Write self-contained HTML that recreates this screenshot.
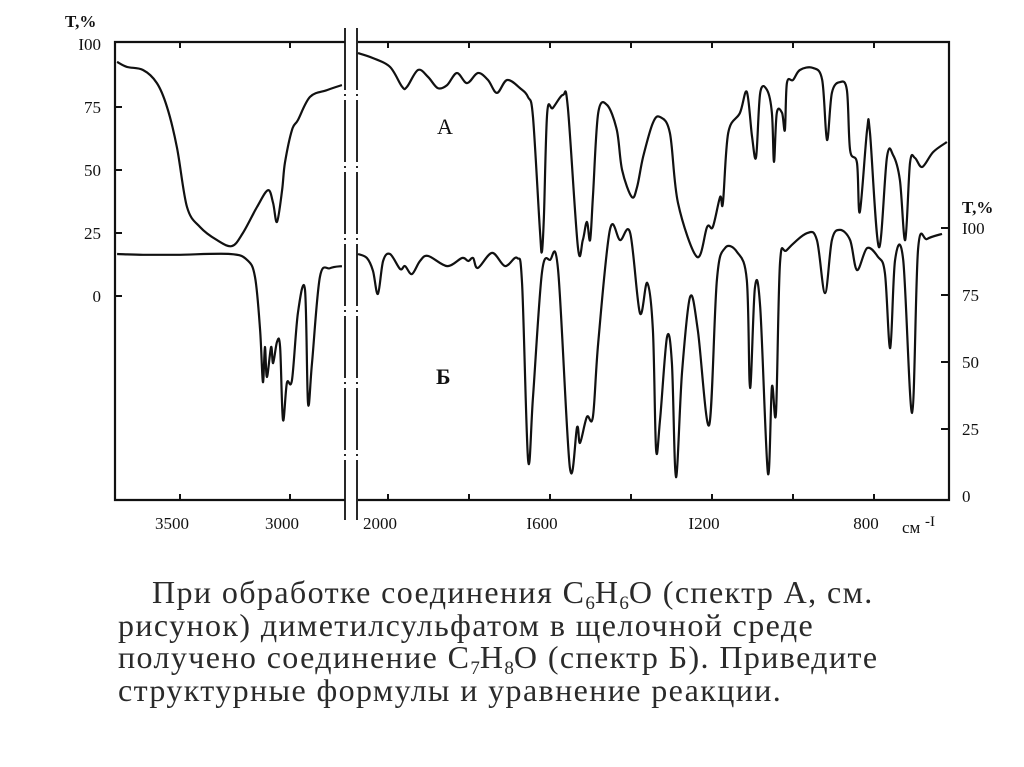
<!DOCTYPE html>
<html><head><meta charset="utf-8"><style>
body{margin:0;background:#fff;width:1024px;height:767px;overflow:hidden;font-family:"Liberation Serif",serif}
svg text{font-family:"Liberation Serif",serif;fill:#111}
#caption{position:absolute;left:118px;top:576px;width:900px;font-size:32px;letter-spacing:1.4px;line-height:32.5px;color:#2a2a2a;font-family:"Liberation Serif","Noto Serif CJK SC",serif;white-space:nowrap}
sub{font-size:19px;vertical-align:-6px;line-height:0;letter-spacing:0}
</style></head><body>
<svg id="chart" width="1024" height="570" style="position:absolute;left:0;top:0"></svg>
<div id="caption"><span style="padding-left:34px"></span>При обработке соединения С<sub>6</sub>Н<sub>6</sub>О (спектр А, см.<br>рисунок) диметилсульфатом в щелочной среде<br>получено соединение С<sub>7</sub>Н<sub>8</sub>О (спектр Б). Приведите<br>структурные формулы и уравнение реакции.</div>
<script>
// Spectrum A (left axis) - wavenumber / transmittance
const aLeftW=[3786,3741,3668,3605,3559,3514,3468,3409,3332,3264,3214,3150,3100,3077,3059,3036,3023,2991,2964,2909,2832,2764];
const aLeftT=[92.9,90.9,89.7,84.5,75,59,35.3,27.4,22.2,19.8,25,35.3,42,36.9,29.4,42,52.8,65.9,69.8,79,81.7,83.7];
const aRightW=[2074,2037,1995,1965,1953,1926,1901,1877,1854,1830,1805,1778,1753,1731,1706,1674,1654,1642,1625,1620,1615,1607,1593,1568,1556,1531,1519,1509,1501,1494,1481,1459,1435,1422,1398,1385,1370,1346,1328,1304,1284,1237,1212,1198,1180,1173,1160,1131,1114,1101,1091,1081,1064,1052,1047,1040,1027,1020,1015,1000,983,951,928,916,904,884,867,859,842,835,817,810,788,768,753,736,723,711,699,681,654,620];
const aRightT=[96.4,94.4,90.9,83,83,89.7,86.9,82.5,83.7,88.5,84.5,88.5,85.7,80.6,85.7,82.5,78.9,71,26.2,17.5,31.3,72.6,74.6,79.8,75,19.4,22.2,29.4,22.2,39.3,72.6,75.8,65.9,50,39.3,43.3,55.2,68.7,71,64.7,36.9,15.5,27.4,27.4,39.3,36.9,64.7,72.6,81,63.1,55.2,80.6,81.7,72.6,53.2,72.6,72.6,65.9,84.5,85.7,89.7,90.5,85.7,61.9,80.6,84.9,81.7,57.9,52.8,33.3,65.9,64.7,19.4,55.2,56,46,22.2,52.8,54.8,51.2,57.1,61.1];
// Spectrum B (right axis)
const bLeftW=[3786,3668,3514,3273,3195,3159,3136,3123,3114,3105,3086,3077,3059,3045,3032,3014,2991,2964,2932,2918,2900,2864,2818,2764];
const bLeftT=[90.3,90,90,90.3,88.1,81.7,61.9,42.5,55.6,44.4,55.6,49.6,57.5,55.6,28.4,42.2,43.3,68.3,76.9,34.7,49.6,81.7,85,85.8];
const bRightW=[2074,2052,2037,2025,2012,1995,1970,1958,1941,1921,1901,1854,1817,1802,1790,1778,1743,1711,1681,1669,1654,1642,1620,1600,1580,1551,1533,1526,1509,1494,1481,1452,1427,1402,1378,1360,1346,1338,1328,1311,1299,1289,1274,1254,1235,1207,1188,1168,1138,1114,1106,1094,1081,1062,1052,1042,1032,1015,965,941,921,904,884,859,842,817,790,773,760,748,728,706,691,669,632];
const bRightT=[90.3,88.8,84,75.4,87.7,90.3,84.7,85.8,82.8,87.7,89.6,85.8,88.8,87.7,88.8,85.1,90.7,85.8,88.8,79.1,13.4,36.9,83.2,88.1,84.3,10.8,25.7,19.8,29.5,29.5,57.1,99.3,95.5,98.1,68.3,79.5,61.9,17.2,29.1,59.3,49.6,7,46,74.3,61.9,26.5,80.6,92.5,91,80.6,40.3,77.6,70.5,8.6,40.7,31,86.9,91.8,98.1,95.5,75.7,95.5,99.3,95.5,84.3,92.5,89.2,83.2,55.2,88.1,88.1,31,92.2,95.9,97.8];
const leftTicks=["I00","75","50","25","0"];
const leftTickVals=[100,75,50,25,0];
const rightTicks=["I00","75","50","25","0"];
const xTickLeft=[3500,3000];
const xTickLeftLbl=["3500","3000"];
const xTickRight=[2000,1800,1600,1400,1200,1000,800];
const xTickRightLbl=["2000","","I600","","I200","","800"];

const xL=w=>180+(3500-w)*0.22;
const xR=w=>388+(2000-w)*0.405;
const yA=t=>296-t*2.52;
const yB=t=>496-t*2.68;
const NS="http://www.w3.org/2000/svg";
const svg=document.getElementById('chart');
function mk(tag,at,txt){const e=document.createElementNS(NS,tag);for(const k in at)e.setAttribute(k,at[k]);if(txt!==undefined)e.textContent=txt;svg.appendChild(e);return e;}
function smooth(p){let d=`M${p[0][0].toFixed(1)},${p[0][1].toFixed(1)}`;for(let i=0;i<p.length-1;i++){const p0=p[Math.max(0,i-1)],p1=p[i],p2=p[i+1],p3=p[Math.min(p.length-1,i+2)];const c1=[p1[0]+(p2[0]-p0[0])/6,p1[1]+(p2[1]-p0[1])/6],c2=[p2[0]-(p3[0]-p1[0])/6,p2[1]-(p3[1]-p1[1])/6];d+=`C${c1[0].toFixed(1)},${c1[1].toFixed(1)} ${c2[0].toFixed(1)},${c2[1].toFixed(1)} ${p2[0].toFixed(1)},${p2[1].toFixed(1)}`;}return d;}
let e;
e=mk('path',{d:`M345,42 H115 V500 H345 M358,42 H949 V500 H358`,fill:'none',stroke:'#111','stroke-width':2.2});

for(const bx of [345,357]){e=mk('line',{x1:bx,y1:28,x2:bx,y2:520,stroke:'#111','stroke-width':1.8,'stroke-dasharray':'62 4 2 4'});
}
leftTickVals.forEach((v,i)=>{const y=yA(v);if(v<100){e=mk('line',{x1:115,y1:y,x2:122,y2:y,stroke:'#111','stroke-width':2});}
e=mk('text',{x:101,y:y+6,'text-anchor':'end','font-size':17},leftTicks[i]);});
e=mk('text',{x:65,y:27,'font-size':17,'font-weight':'bold'},'T,%');
leftTickVals.forEach((v,i)=>{const y=yB(v);if(v>0){e=mk('line',{x1:941,y1:y,x2:949,y2:y,stroke:'#111','stroke-width':2});}
e=mk('text',{x:962,y:y+6,'font-size':17},rightTicks[i]);});
e=mk('text',{x:962,y:213,'font-size':17,'font-weight':'bold'},'T,%');
xTickLeft.forEach((w,i)=>{const x=xL(w);
e=mk('line',{x1:x,y1:42,x2:x,y2:48,stroke:'#111','stroke-width':2});
e=mk('line',{x1:x,y1:494,x2:x,y2:500,stroke:'#111','stroke-width':2});
e=mk('text',{x:x-8,y:529,'text-anchor':'middle','font-size':17},xTickLeftLbl[i]);});
xTickRight.forEach((w,i)=>{const x=xR(w);
e=mk('line',{x1:x,y1:42,x2:x,y2:48,stroke:'#111','stroke-width':2});
e=mk('line',{x1:x,y1:494,x2:x,y2:500,stroke:'#111','stroke-width':2});
if(xTickRightLbl[i]){e=mk('text',{x:x-8,y:529,'text-anchor':'middle','font-size':17},xTickRightLbl[i]);}});
e=mk('text',{x:902,y:533,'font-size':17},'см');
e=mk('text',{x:925,y:526,'font-size':15},'-I');
function curve(W,T,fx,fy,name){const p=W.map((w,i)=>[fx(w),fy(T[i])]);e=mk('path',{d:smooth(p),fill:'none',stroke:'#111','stroke-width':2.2,'stroke-linejoin':'round'});
}
curve(aLeftW,aLeftT,xL,yA,'spectrum-a-left');
curve(aRightW,aRightT,xR,yA,'spectrum-a-right');
curve(bLeftW,bLeftT,xL,yB,'spectrum-b-left');
curve(bRightW,bRightT,xR,yB,'spectrum-b-right');
e=mk('text',{x:437,y:134,'font-size':22},'А');
e=mk('text',{x:436,y:384,'font-size':22,'font-weight':'bold'},'Б');
</script>
</body></html>
